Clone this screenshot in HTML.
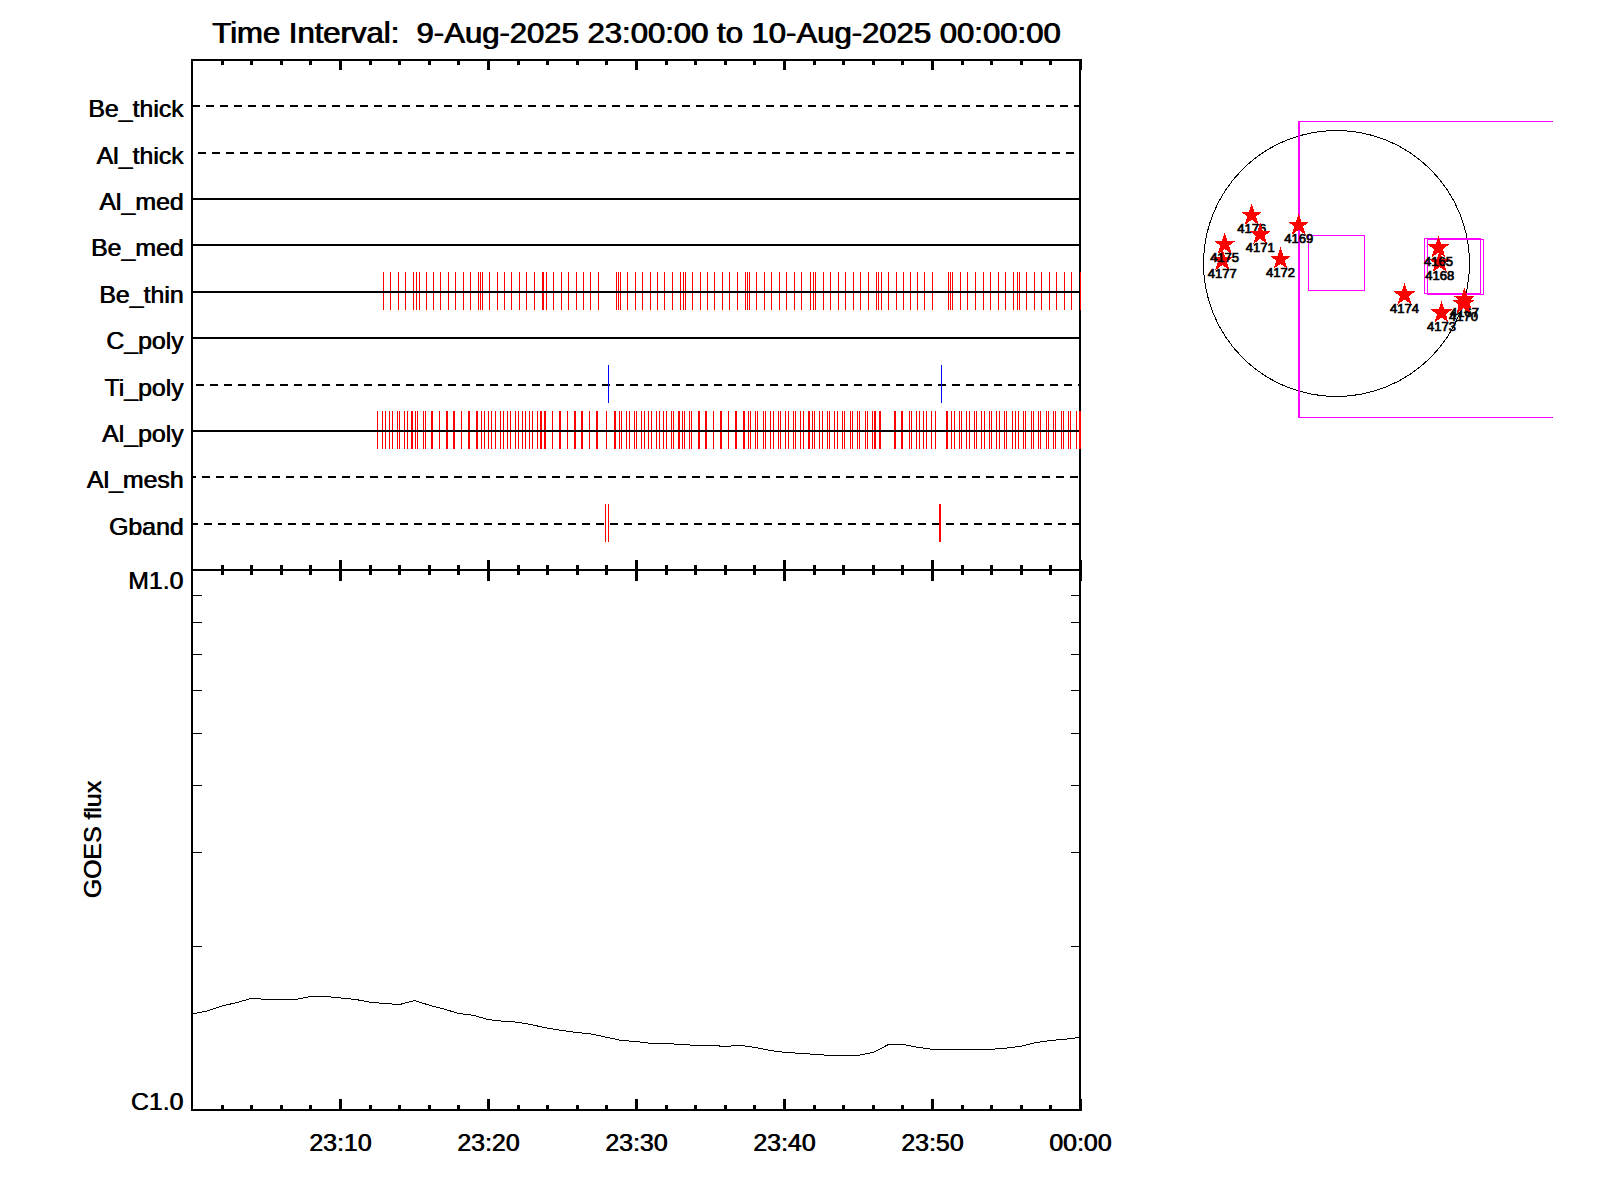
<!DOCTYPE html>
<html lang="en"><head><meta charset="utf-8"><title>XRT Time Interval 9-Aug-2025 23:00:00 to 10-Aug-2025 00:00:00</title>
<style>html,body{margin:0;padding:0;background:#fff;}body{width:1600px;height:1200px;overflow:hidden;}svg{display:block;}text{font-family:"Liberation Sans",sans-serif;fill:#000;}.t{font-size:29.6px;}.l{font-size:23.7px;}.s{font-size:13px;}</style></head><body>
<svg width="1600" height="1200" viewBox="0 0 1600 1200">
<rect x="0" y="0" width="1600" height="1200" fill="#fff"/>
<g shape-rendering="crispEdges">
<polyline points="192.5,1014.0 207.3,1011.0 222.1,1006.0 236.9,1002.5 251.7,998.3 266.5,999.4 281.3,999.4 296.1,999.4 310.9,996.5 325.7,996.5 340.5,998.0 355.3,999.4 370.1,1002.2 384.9,1003.5 399.7,1004.5 414.5,1000.5 429.3,1005.2 444.1,1009.1 458.9,1013.5 473.7,1015.4 488.5,1019.6 503.3,1021.3 518.1,1022.2 532.9,1025.0 547.7,1028.2 562.5,1030.6 577.3,1032.5 592.1,1034.1 606.9,1037.4 621.7,1040.5 636.5,1041.5 651.3,1043.5 666.1,1043.5 680.9,1044.4 695.7,1045.4 710.5,1045.4 725.3,1046.4 740.1,1045.4 754.9,1047.4 769.7,1050.4 784.5,1052.3 799.3,1053.3 814.1,1054.3 828.9,1055.4 843.7,1055.3 858.5,1055.3 873.3,1052.4 888.1,1044.7 902.9,1044.3 917.7,1047.3 932.5,1049.3 947.3,1049.3 962.1,1049.3 976.9,1049.3 991.7,1049.3 1006.5,1048.1 1021.3,1046.1 1036.1,1042.5 1050.9,1040.4 1065.7,1039.2 1080.5,1037.3" fill="none" stroke="#000" stroke-width="1"/>
<rect x="191" y="59" width="2" height="1052" fill="#000"/>
<rect x="1079" y="59" width="2" height="1052" fill="#000"/>
<rect x="191" y="59" width="890" height="2" fill="#000"/>
<rect x="191" y="569" width="890" height="2" fill="#000"/>
<rect x="191" y="1109" width="890" height="2" fill="#000"/>
<rect x="221" y="59" width="3" height="6" fill="#000"/>
<rect x="221" y="565" width="3" height="10" fill="#000"/>
<rect x="221" y="1105" width="3" height="6" fill="#000"/>
<rect x="250" y="59" width="3" height="6" fill="#000"/>
<rect x="250" y="565" width="3" height="10" fill="#000"/>
<rect x="250" y="1105" width="3" height="6" fill="#000"/>
<rect x="280" y="59" width="3" height="6" fill="#000"/>
<rect x="280" y="565" width="3" height="10" fill="#000"/>
<rect x="280" y="1105" width="3" height="6" fill="#000"/>
<rect x="309" y="59" width="3" height="6" fill="#000"/>
<rect x="309" y="565" width="3" height="10" fill="#000"/>
<rect x="309" y="1105" width="3" height="6" fill="#000"/>
<rect x="339" y="59" width="3" height="11" fill="#000"/>
<rect x="339" y="560" width="3" height="21" fill="#000"/>
<rect x="339" y="1099" width="3" height="12" fill="#000"/>
<rect x="369" y="59" width="3" height="6" fill="#000"/>
<rect x="369" y="565" width="3" height="10" fill="#000"/>
<rect x="369" y="1105" width="3" height="6" fill="#000"/>
<rect x="398" y="59" width="3" height="6" fill="#000"/>
<rect x="398" y="565" width="3" height="10" fill="#000"/>
<rect x="398" y="1105" width="3" height="6" fill="#000"/>
<rect x="428" y="59" width="3" height="6" fill="#000"/>
<rect x="428" y="565" width="3" height="10" fill="#000"/>
<rect x="428" y="1105" width="3" height="6" fill="#000"/>
<rect x="457" y="59" width="3" height="6" fill="#000"/>
<rect x="457" y="565" width="3" height="10" fill="#000"/>
<rect x="457" y="1105" width="3" height="6" fill="#000"/>
<rect x="487" y="59" width="3" height="11" fill="#000"/>
<rect x="487" y="560" width="3" height="21" fill="#000"/>
<rect x="487" y="1099" width="3" height="12" fill="#000"/>
<rect x="517" y="59" width="3" height="6" fill="#000"/>
<rect x="517" y="565" width="3" height="10" fill="#000"/>
<rect x="517" y="1105" width="3" height="6" fill="#000"/>
<rect x="546" y="59" width="3" height="6" fill="#000"/>
<rect x="546" y="565" width="3" height="10" fill="#000"/>
<rect x="546" y="1105" width="3" height="6" fill="#000"/>
<rect x="576" y="59" width="3" height="6" fill="#000"/>
<rect x="576" y="565" width="3" height="10" fill="#000"/>
<rect x="576" y="1105" width="3" height="6" fill="#000"/>
<rect x="605" y="59" width="3" height="6" fill="#000"/>
<rect x="605" y="565" width="3" height="10" fill="#000"/>
<rect x="605" y="1105" width="3" height="6" fill="#000"/>
<rect x="635" y="59" width="3" height="11" fill="#000"/>
<rect x="635" y="560" width="3" height="21" fill="#000"/>
<rect x="635" y="1099" width="3" height="12" fill="#000"/>
<rect x="665" y="59" width="3" height="6" fill="#000"/>
<rect x="665" y="565" width="3" height="10" fill="#000"/>
<rect x="665" y="1105" width="3" height="6" fill="#000"/>
<rect x="694" y="59" width="3" height="6" fill="#000"/>
<rect x="694" y="565" width="3" height="10" fill="#000"/>
<rect x="694" y="1105" width="3" height="6" fill="#000"/>
<rect x="724" y="59" width="3" height="6" fill="#000"/>
<rect x="724" y="565" width="3" height="10" fill="#000"/>
<rect x="724" y="1105" width="3" height="6" fill="#000"/>
<rect x="753" y="59" width="3" height="6" fill="#000"/>
<rect x="753" y="565" width="3" height="10" fill="#000"/>
<rect x="753" y="1105" width="3" height="6" fill="#000"/>
<rect x="783" y="59" width="3" height="11" fill="#000"/>
<rect x="783" y="560" width="3" height="21" fill="#000"/>
<rect x="783" y="1099" width="3" height="12" fill="#000"/>
<rect x="813" y="59" width="3" height="6" fill="#000"/>
<rect x="813" y="565" width="3" height="10" fill="#000"/>
<rect x="813" y="1105" width="3" height="6" fill="#000"/>
<rect x="842" y="59" width="3" height="6" fill="#000"/>
<rect x="842" y="565" width="3" height="10" fill="#000"/>
<rect x="842" y="1105" width="3" height="6" fill="#000"/>
<rect x="872" y="59" width="3" height="6" fill="#000"/>
<rect x="872" y="565" width="3" height="10" fill="#000"/>
<rect x="872" y="1105" width="3" height="6" fill="#000"/>
<rect x="901" y="59" width="3" height="6" fill="#000"/>
<rect x="901" y="565" width="3" height="10" fill="#000"/>
<rect x="901" y="1105" width="3" height="6" fill="#000"/>
<rect x="931" y="59" width="3" height="11" fill="#000"/>
<rect x="931" y="560" width="3" height="21" fill="#000"/>
<rect x="931" y="1099" width="3" height="12" fill="#000"/>
<rect x="961" y="59" width="3" height="6" fill="#000"/>
<rect x="961" y="565" width="3" height="10" fill="#000"/>
<rect x="961" y="1105" width="3" height="6" fill="#000"/>
<rect x="990" y="59" width="3" height="6" fill="#000"/>
<rect x="990" y="565" width="3" height="10" fill="#000"/>
<rect x="990" y="1105" width="3" height="6" fill="#000"/>
<rect x="1020" y="59" width="3" height="6" fill="#000"/>
<rect x="1020" y="565" width="3" height="10" fill="#000"/>
<rect x="1020" y="1105" width="3" height="6" fill="#000"/>
<rect x="1049" y="59" width="3" height="6" fill="#000"/>
<rect x="1049" y="565" width="3" height="10" fill="#000"/>
<rect x="1049" y="1105" width="3" height="6" fill="#000"/>
<rect x="1079" y="59" width="3" height="11" fill="#000"/>
<rect x="1079" y="560" width="3" height="21" fill="#000"/>
<rect x="1079" y="1099" width="3" height="12" fill="#000"/>
<rect x="193" y="595" width="9" height="1" fill="#000"/>
<rect x="1071" y="595" width="8" height="1" fill="#000"/>
<rect x="193" y="622" width="9" height="1" fill="#000"/>
<rect x="1071" y="622" width="8" height="1" fill="#000"/>
<rect x="193" y="654" width="9" height="1" fill="#000"/>
<rect x="1071" y="654" width="8" height="1" fill="#000"/>
<rect x="193" y="690" width="9" height="1" fill="#000"/>
<rect x="1071" y="690" width="8" height="1" fill="#000"/>
<rect x="193" y="733" width="9" height="1" fill="#000"/>
<rect x="1071" y="733" width="8" height="1" fill="#000"/>
<rect x="193" y="785" width="9" height="1" fill="#000"/>
<rect x="1071" y="785" width="8" height="1" fill="#000"/>
<rect x="193" y="852" width="9" height="1" fill="#000"/>
<rect x="1071" y="852" width="8" height="1" fill="#000"/>
<rect x="193" y="946" width="9" height="1" fill="#000"/>
<rect x="1071" y="946" width="8" height="1" fill="#000"/>
<path fill="#f00" d="M383 272h1v38h-1zM390 272h1v38h-1zM398 272h1v38h-1zM405 272h1v38h-1zM413 272h1v38h-1zM416 272h1v38h-1zM419 272h1v38h-1zM426 272h1v38h-1zM433 272h1v38h-1zM440 272h1v38h-1zM448 272h1v38h-1zM455 272h1v38h-1zM463 272h1v38h-1zM470 272h1v38h-1zM478 272h1v38h-1zM480 272h1v38h-1zM482 272h1v38h-1zM489 272h1v38h-1zM497 272h1v38h-1zM504 272h1v38h-1zM511 272h1v38h-1zM519 272h1v38h-1zM526 272h1v38h-1zM534 272h1v38h-1zM542 272h2v38h-2zM546 272h1v38h-1zM553 272h1v38h-1zM561 272h1v38h-1zM568 272h1v38h-1zM576 272h1v38h-1zM583 272h1v38h-1zM590 272h1v38h-1zM598 272h1v38h-1zM616 272h1v38h-1zM618 272h1v38h-1zM620 272h1v38h-1zM627 272h1v38h-1zM635 272h1v38h-1zM642 272h1v38h-1zM650 272h1v38h-1zM657 272h1v38h-1zM664 272h1v38h-1zM672 272h1v38h-1zM680 272h1v38h-1zM683 272h1v38h-1zM685 272h1v38h-1zM692 272h1v38h-1zM700 272h1v38h-1zM707 272h1v38h-1zM714 272h1v38h-1zM722 272h1v38h-1zM729 272h1v38h-1zM737 272h1v38h-1zM745 272h1v38h-1zM747 272h1v38h-1zM749 272h1v38h-1zM756 272h1v38h-1zM764 272h1v38h-1zM771 272h1v38h-1zM779 272h1v38h-1zM786 272h1v38h-1zM794 272h1v38h-1zM801 272h1v38h-1zM810 272h1v38h-1zM813 272h1v38h-1zM815 272h1v38h-1zM823 272h1v38h-1zM830 272h1v38h-1zM838 272h1v38h-1zM845 272h1v38h-1zM853 272h1v38h-1zM860 272h1v38h-1zM868 272h1v38h-1zM876 272h1v38h-1zM878 272h1v38h-1zM881 272h1v38h-1zM888 272h1v38h-1zM896 272h1v38h-1zM903 272h1v38h-1zM910 272h1v38h-1zM917 272h1v38h-1zM924 272h1v38h-1zM932 272h1v38h-1zM948 272h1v38h-1zM950 272h1v38h-1zM952 272h1v38h-1zM960 272h1v38h-1zM967 272h1v38h-1zM975 272h1v38h-1zM983 272h1v38h-1zM990 272h1v38h-1zM998 272h1v38h-1zM1005 272h1v38h-1zM1013 272h1v38h-1zM1017 272h1v38h-1zM1019 272h1v38h-1zM1026 272h1v38h-1zM1034 272h1v38h-1zM1041 272h1v38h-1zM1049 272h1v38h-1zM1056 272h1v38h-1zM1064 272h1v38h-1zM1071 272h1v38h-1zM1080 272h1v38h-1z"/>
<path fill="#f00" d="M377 411h1v38h-1zM382 411h1v38h-1zM385 411h1v38h-1zM389 411h1v38h-1zM392 411h1v38h-1zM397 411h1v38h-1zM399 411h1v38h-1zM404 411h1v38h-1zM407 411h1v38h-1zM411 411h2v38h-2zM415 411h1v38h-1zM417 411h1v38h-1zM423 411h1v38h-1zM425 411h1v38h-1zM431 411h2v38h-2zM439 411h1v38h-1zM446 411h2v38h-2zM453 411h2v38h-2zM461 411h1v38h-1zM468 411h2v38h-2zM476 411h2v38h-2zM481 411h1v38h-1zM484 411h1v38h-1zM488 411h1v38h-1zM491 411h1v38h-1zM495 411h1v38h-1zM500 411h1v38h-1zM503 411h1v38h-1zM507 411h1v38h-1zM510 411h1v38h-1zM515 411h1v38h-1zM518 411h1v38h-1zM522 411h1v38h-1zM525 411h1v38h-1zM529 411h1v38h-1zM532 411h1v38h-1zM537 411h1v38h-1zM540 411h2v38h-2zM544 411h2v38h-2zM552 411h1v38h-1zM559 411h2v38h-2zM567 411h1v38h-1zM574 411h2v38h-2zM581 411h2v38h-2zM589 411h1v38h-1zM596 411h2v38h-2zM606 411h1v38h-1zM614 411h2v38h-2zM619 411h1v38h-1zM621 411h1v38h-1zM626 411h1v38h-1zM629 411h1v38h-1zM634 411h1v38h-1zM636 411h1v38h-1zM641 411h1v38h-1zM644 411h1v38h-1zM648 411h1v38h-1zM651 411h1v38h-1zM656 411h1v38h-1zM659 411h1v38h-1zM663 411h1v38h-1zM666 411h1v38h-1zM671 411h1v38h-1zM673 411h1v38h-1zM678 411h2v38h-2zM682 411h1v38h-1zM684 411h1v38h-1zM689 411h1v38h-1zM691 411h1v38h-1zM698 411h2v38h-2zM705 411h2v38h-2zM713 411h1v38h-1zM720 411h2v38h-2zM728 411h1v38h-1zM735 411h2v38h-2zM743 411h2v38h-2zM748 411h1v38h-1zM750 411h1v38h-1zM755 411h1v38h-1zM757 411h1v38h-1zM763 411h1v38h-1zM765 411h1v38h-1zM770 411h1v38h-1zM773 411h1v38h-1zM778 411h1v38h-1zM780 411h1v38h-1zM785 411h1v38h-1zM788 411h1v38h-1zM793 411h1v38h-1zM795 411h1v38h-1zM800 411h1v38h-1zM803 411h1v38h-1zM808 411h2v38h-2zM812 411h1v38h-1zM814 411h1v38h-1zM819 411h1v38h-1zM822 411h1v38h-1zM827 411h1v38h-1zM829 411h1v38h-1zM834 411h1v38h-1zM837 411h1v38h-1zM842 411h1v38h-1zM844 411h1v38h-1zM850 411h1v38h-1zM852 411h1v38h-1zM857 411h1v38h-1zM859 411h1v38h-1zM865 411h1v38h-1zM867 411h1v38h-1zM872 411h1v38h-1zM874 411h2v38h-2zM879 411h2v38h-2zM894 411h2v38h-2zM901 411h2v38h-2zM909 411h1v38h-1zM911 411h1v38h-1zM916 411h1v38h-1zM919 411h1v38h-1zM923 411h1v38h-1zM926 411h1v38h-1zM931 411h1v38h-1zM935 411h1v38h-1zM946 411h2v38h-2zM951 411h1v38h-1zM954 411h1v38h-1zM959 411h1v38h-1zM961 411h1v38h-1zM966 411h1v38h-1zM969 411h1v38h-1zM974 411h1v38h-1zM976 411h1v38h-1zM981 411h1v38h-1zM984 411h1v38h-1zM989 411h1v38h-1zM991 411h1v38h-1zM996 411h1v38h-1zM999 411h1v38h-1zM1004 411h1v38h-1zM1006 411h1v38h-1zM1012 411h1v38h-1zM1015 411h1v38h-1zM1018 411h1v38h-1zM1023 411h1v38h-1zM1025 411h1v38h-1zM1031 411h1v38h-1zM1033 411h1v38h-1zM1038 411h1v38h-1zM1040 411h1v38h-1zM1046 411h1v38h-1zM1048 411h1v38h-1zM1053 411h1v38h-1zM1055 411h1v38h-1zM1061 411h1v38h-1zM1063 411h1v38h-1zM1068 411h1v38h-1zM1070 411h1v38h-1zM1076 411h1v38h-1zM1079 411h2v38h-2z"/>
<path fill="#000" d="M192 105h8v2h-8zM206 105h8v2h-8zM220 105h8v2h-8zM234 105h8v2h-8zM248 105h8v2h-8zM262 105h8v2h-8zM276 105h8v2h-8zM290 105h8v2h-8zM304 105h8v2h-8zM318 105h8v2h-8zM332 105h8v2h-8zM346 105h8v2h-8zM360 105h8v2h-8zM374 105h8v2h-8zM388 105h8v2h-8zM402 105h8v2h-8zM416 105h8v2h-8zM430 105h8v2h-8zM444 105h8v2h-8zM458 105h8v2h-8zM472 105h8v2h-8zM486 105h8v2h-8zM500 105h8v2h-8zM514 105h8v2h-8zM528 105h8v2h-8zM542 105h8v2h-8zM556 105h8v2h-8zM570 105h8v2h-8zM584 105h8v2h-8zM598 105h8v2h-8zM612 105h8v2h-8zM626 105h8v2h-8zM640 105h8v2h-8zM654 105h8v2h-8zM668 105h8v2h-8zM682 105h8v2h-8zM696 105h8v2h-8zM710 105h8v2h-8zM724 105h8v2h-8zM738 105h8v2h-8zM752 105h8v2h-8zM766 105h8v2h-8zM780 105h8v2h-8zM794 105h8v2h-8zM808 105h8v2h-8zM822 105h8v2h-8zM836 105h8v2h-8zM850 105h8v2h-8zM864 105h8v2h-8zM878 105h8v2h-8zM892 105h8v2h-8zM906 105h8v2h-8zM920 105h8v2h-8zM934 105h8v2h-8zM948 105h8v2h-8zM962 105h8v2h-8zM976 105h8v2h-8zM990 105h8v2h-8zM1004 105h8v2h-8zM1018 105h8v2h-8zM1032 105h8v2h-8zM1046 105h8v2h-8zM1060 105h8v2h-8zM1074 105h7v2h-7z"/>
<path fill="#000" d="M198 152h8v2h-8zM212 152h8v2h-8zM226 152h8v2h-8zM240 152h8v2h-8zM254 152h8v2h-8zM268 152h8v2h-8zM282 152h8v2h-8zM296 152h8v2h-8zM310 152h8v2h-8zM324 152h8v2h-8zM338 152h8v2h-8zM352 152h8v2h-8zM366 152h8v2h-8zM380 152h8v2h-8zM394 152h8v2h-8zM408 152h8v2h-8zM422 152h8v2h-8zM436 152h8v2h-8zM450 152h8v2h-8zM464 152h8v2h-8zM478 152h8v2h-8zM492 152h8v2h-8zM506 152h8v2h-8zM520 152h8v2h-8zM534 152h8v2h-8zM548 152h8v2h-8zM562 152h8v2h-8zM576 152h8v2h-8zM590 152h8v2h-8zM604 152h8v2h-8zM618 152h8v2h-8zM632 152h8v2h-8zM646 152h8v2h-8zM660 152h8v2h-8zM674 152h8v2h-8zM688 152h8v2h-8zM702 152h8v2h-8zM716 152h8v2h-8zM730 152h8v2h-8zM744 152h8v2h-8zM758 152h8v2h-8zM772 152h8v2h-8zM786 152h8v2h-8zM800 152h8v2h-8zM814 152h8v2h-8zM828 152h8v2h-8zM842 152h8v2h-8zM856 152h8v2h-8zM870 152h8v2h-8zM884 152h8v2h-8zM898 152h8v2h-8zM912 152h8v2h-8zM926 152h8v2h-8zM940 152h8v2h-8zM954 152h8v2h-8zM968 152h8v2h-8zM982 152h8v2h-8zM996 152h8v2h-8zM1010 152h8v2h-8zM1024 152h8v2h-8zM1038 152h8v2h-8zM1052 152h8v2h-8zM1066 152h8v2h-8z"/>
<rect x="193" y="198" width="886" height="2" fill="#000"/>
<rect x="193" y="244" width="886" height="2" fill="#000"/>
<rect x="193" y="291" width="886" height="2" fill="#000"/>
<rect x="193" y="337" width="886" height="2" fill="#000"/>
<path fill="#000" d="M196 384h8v2h-8zM210 384h8v2h-8zM224 384h8v2h-8zM238 384h8v2h-8zM252 384h8v2h-8zM266 384h8v2h-8zM280 384h8v2h-8zM294 384h8v2h-8zM308 384h8v2h-8zM322 384h8v2h-8zM336 384h8v2h-8zM350 384h8v2h-8zM364 384h8v2h-8zM378 384h8v2h-8zM392 384h8v2h-8zM406 384h8v2h-8zM420 384h8v2h-8zM434 384h8v2h-8zM448 384h8v2h-8zM462 384h8v2h-8zM476 384h8v2h-8zM490 384h8v2h-8zM504 384h8v2h-8zM518 384h8v2h-8zM532 384h8v2h-8zM546 384h8v2h-8zM560 384h8v2h-8zM574 384h8v2h-8zM588 384h8v2h-8zM602 384h8v2h-8zM616 384h8v2h-8zM630 384h8v2h-8zM644 384h8v2h-8zM658 384h8v2h-8zM672 384h8v2h-8zM686 384h8v2h-8zM700 384h8v2h-8zM714 384h8v2h-8zM728 384h8v2h-8zM742 384h8v2h-8zM756 384h8v2h-8zM770 384h8v2h-8zM784 384h8v2h-8zM798 384h8v2h-8zM812 384h8v2h-8zM826 384h8v2h-8zM840 384h8v2h-8zM854 384h8v2h-8zM868 384h8v2h-8zM882 384h8v2h-8zM896 384h8v2h-8zM910 384h8v2h-8zM924 384h8v2h-8zM938 384h8v2h-8zM952 384h8v2h-8zM966 384h8v2h-8zM980 384h8v2h-8zM994 384h8v2h-8zM1008 384h8v2h-8zM1022 384h8v2h-8zM1036 384h8v2h-8zM1050 384h8v2h-8zM1064 384h8v2h-8zM1078 384h3v2h-3z"/>
<rect x="193" y="430" width="886" height="2" fill="#000"/>
<path fill="#000" d="M193 476h3v2h-3zM202 476h8v2h-8zM216 476h8v2h-8zM230 476h8v2h-8zM244 476h8v2h-8zM258 476h8v2h-8zM272 476h8v2h-8zM286 476h8v2h-8zM300 476h8v2h-8zM314 476h8v2h-8zM328 476h8v2h-8zM342 476h8v2h-8zM356 476h8v2h-8zM370 476h8v2h-8zM384 476h8v2h-8zM398 476h8v2h-8zM412 476h8v2h-8zM426 476h8v2h-8zM440 476h8v2h-8zM454 476h8v2h-8zM468 476h8v2h-8zM482 476h8v2h-8zM496 476h8v2h-8zM510 476h8v2h-8zM524 476h8v2h-8zM538 476h8v2h-8zM552 476h8v2h-8zM566 476h8v2h-8zM580 476h8v2h-8zM594 476h8v2h-8zM608 476h8v2h-8zM622 476h8v2h-8zM636 476h8v2h-8zM650 476h8v2h-8zM664 476h8v2h-8zM678 476h8v2h-8zM692 476h8v2h-8zM706 476h8v2h-8zM720 476h8v2h-8zM734 476h8v2h-8zM748 476h8v2h-8zM762 476h8v2h-8zM776 476h8v2h-8zM790 476h8v2h-8zM804 476h8v2h-8zM818 476h8v2h-8zM832 476h8v2h-8zM846 476h8v2h-8zM860 476h8v2h-8zM874 476h8v2h-8zM888 476h8v2h-8zM902 476h8v2h-8zM916 476h8v2h-8zM930 476h8v2h-8zM944 476h8v2h-8zM958 476h8v2h-8zM972 476h8v2h-8zM986 476h8v2h-8zM1000 476h8v2h-8zM1014 476h8v2h-8zM1028 476h8v2h-8zM1042 476h8v2h-8zM1056 476h8v2h-8zM1070 476h8v2h-8z"/>
<path fill="#000" d="M193 523h5v2h-5zM204 523h8v2h-8zM218 523h8v2h-8zM232 523h8v2h-8zM246 523h8v2h-8zM260 523h8v2h-8zM274 523h8v2h-8zM288 523h8v2h-8zM302 523h8v2h-8zM316 523h8v2h-8zM330 523h8v2h-8zM344 523h8v2h-8zM358 523h8v2h-8zM372 523h8v2h-8zM386 523h8v2h-8zM400 523h8v2h-8zM414 523h8v2h-8zM428 523h8v2h-8zM442 523h8v2h-8zM456 523h8v2h-8zM470 523h8v2h-8zM484 523h8v2h-8zM498 523h8v2h-8zM512 523h8v2h-8zM526 523h8v2h-8zM540 523h8v2h-8zM554 523h8v2h-8zM568 523h8v2h-8zM582 523h8v2h-8zM596 523h8v2h-8zM610 523h8v2h-8zM624 523h8v2h-8zM638 523h8v2h-8zM652 523h8v2h-8zM666 523h8v2h-8zM680 523h8v2h-8zM694 523h8v2h-8zM708 523h8v2h-8zM722 523h8v2h-8zM736 523h8v2h-8zM750 523h8v2h-8zM764 523h8v2h-8zM778 523h8v2h-8zM792 523h8v2h-8zM806 523h8v2h-8zM820 523h8v2h-8zM834 523h8v2h-8zM848 523h8v2h-8zM862 523h8v2h-8zM876 523h8v2h-8zM890 523h8v2h-8zM904 523h8v2h-8zM918 523h8v2h-8zM932 523h8v2h-8zM946 523h8v2h-8zM960 523h8v2h-8zM974 523h8v2h-8zM988 523h8v2h-8zM1002 523h8v2h-8zM1016 523h8v2h-8zM1030 523h8v2h-8zM1044 523h8v2h-8zM1058 523h8v2h-8zM1072 523h8v2h-8z"/>
<path fill="#f00" d="M605 504h1v38h-1zM608 504h1v38h-1zM939 504h2v38h-2z"/>
<path fill="#00f" d="M608 365h1v38h-1zM941 365h1v38h-1z"/>
<circle cx="1336.5" cy="263.5" r="133" fill="none" stroke="#000" stroke-width="1"/>
<rect x="1298" y="121" width="2" height="297" fill="#f0f"/>
<rect x="1298" y="121" width="255" height="1" fill="#f0f"/>
<rect x="1298" y="417" width="255" height="1" fill="#f0f"/>
<path fill="none" stroke="#f0f" stroke-width="1" d="M1308.5 235.5H1364.5V290.5H1308.5z"/>
<path fill="none" stroke="#f0f" stroke-width="1" d="M1424.5 238.5H1480.5V293.5H1424.5z"/>
<path fill="none" stroke="#f0f" stroke-width="1" d="M1427.5 239.5H1483.5V294.5H1427.5z"/>
</g>
<polygon shape-rendering="crispEdges" fill="#f00" points="1222.3,248.5 1225.0,256.8 1233.0,257.0 1226.7,261.9 1229.4,270.2 1222.3,265.1 1215.2,270.2 1217.9,261.9 1211.6,257.0 1219.6,256.8"/>
<text class="s" x="1222.3" y="277.5" text-anchor="middle" stroke="#000" stroke-width="0.7">4177</text>
<polygon shape-rendering="crispEdges" fill="#f00" points="1224.6,232.4 1227.3,240.7 1235.3,240.9 1229.0,245.8 1231.7,254.1 1224.6,249.0 1217.5,254.1 1220.2,245.8 1213.9,240.9 1221.9,240.7"/>
<text class="s" x="1224.6" y="261.7" text-anchor="middle" stroke="#000" stroke-width="0.7">4175</text>
<polygon shape-rendering="crispEdges" fill="#f00" points="1251.7,203.2 1254.4,211.5 1262.4,211.7 1256.1,216.6 1258.8,224.9 1251.7,219.8 1244.6,224.9 1247.3,216.6 1241.0,211.7 1249.0,211.5"/>
<text class="s" x="1251.7" y="232.9" text-anchor="middle" stroke="#000" stroke-width="0.7">4176</text>
<polygon shape-rendering="crispEdges" fill="#f00" points="1260.2,222.4 1262.9,230.7 1270.9,230.9 1264.6,235.8 1267.3,244.1 1260.2,239.0 1253.1,244.1 1255.8,235.8 1249.5,230.9 1257.5,230.7"/>
<text class="s" x="1260.2" y="251.7" text-anchor="middle" stroke="#000" stroke-width="0.7">4171</text>
<polygon shape-rendering="crispEdges" fill="#f00" points="1298.7,213.2 1301.4,221.5 1309.4,221.7 1303.1,226.6 1305.8,234.9 1298.7,229.8 1291.6,234.9 1294.3,226.6 1288.0,221.7 1296.0,221.5"/>
<text class="s" x="1298.7" y="242.5" text-anchor="middle" stroke="#000" stroke-width="0.7">4169</text>
<polygon shape-rendering="crispEdges" fill="#f00" points="1280.5,247.3 1283.2,255.6 1291.2,255.8 1284.9,260.7 1287.6,269.0 1280.5,263.9 1273.4,269.0 1276.1,260.7 1269.8,255.8 1277.8,255.6"/>
<text class="s" x="1280.5" y="276.6" text-anchor="middle" stroke="#000" stroke-width="0.7">4172</text>
<polygon shape-rendering="crispEdges" fill="#f00" points="1439.7,250.4 1442.4,258.7 1450.4,258.9 1444.1,263.8 1446.8,272.1 1439.7,267.0 1432.6,272.1 1435.3,263.8 1429.0,258.9 1437.0,258.7"/>
<text class="s" x="1439.7" y="279.7" text-anchor="middle" stroke="#000" stroke-width="0.7">4168</text>
<polygon shape-rendering="crispEdges" fill="#f00" points="1438.4,235.9 1441.1,244.2 1449.1,244.4 1442.8,249.3 1445.5,257.6 1438.4,252.5 1431.3,257.6 1434.0,249.3 1427.7,244.4 1435.7,244.2"/>
<text class="s" x="1438.4" y="265.7" text-anchor="middle" stroke="#000" stroke-width="0.7">4165</text>
<polygon shape-rendering="crispEdges" fill="#f00" points="1404.5,282.9 1407.2,291.2 1415.2,291.4 1408.9,296.3 1411.6,304.6 1404.5,299.5 1397.4,304.6 1400.1,296.3 1393.8,291.4 1401.8,291.2"/>
<text class="s" x="1404.5" y="312.7" text-anchor="middle" stroke="#000" stroke-width="0.7">4174</text>
<polygon shape-rendering="crispEdges" fill="#f00" points="1441.4,300.9 1444.1,309.2 1452.1,309.4 1445.8,314.3 1448.5,322.6 1441.4,317.5 1434.3,322.6 1437.0,314.3 1430.7,309.4 1438.7,309.2"/>
<text class="s" x="1441.4" y="330.5" text-anchor="middle" stroke="#000" stroke-width="0.7">4173</text>
<polygon shape-rendering="crispEdges" fill="#f00" points="1464.4,287.5 1467.1,295.8 1475.1,296.0 1468.8,300.9 1471.5,309.2 1464.4,304.1 1457.3,309.2 1460.0,300.9 1453.7,296.0 1461.7,295.8"/>
<text class="s" x="1464.4" y="317.2" text-anchor="middle" stroke="#000" stroke-width="0.7">4167</text>
<polygon shape-rendering="crispEdges" fill="#f00" points="1463.5,291.8 1466.2,300.1 1474.2,300.3 1467.9,305.2 1470.6,313.5 1463.5,308.4 1456.4,313.5 1459.1,305.2 1452.8,300.3 1460.8,300.1"/>
<text class="s" x="1463.5" y="321.0" text-anchor="middle" stroke="#000" stroke-width="0.7">4170</text>
<g transform="translate(636.5,43) scale(1.05,1)">
<text xml:space="preserve" class="t" x="-0.476" y="0" text-anchor="middle">Time Interval:  9-Aug-2025 23:00:00 to 10-Aug-2025 00:00:00</text>
<text xml:space="preserve" class="t" x="0.476" y="0" text-anchor="middle">Time Interval:  9-Aug-2025 23:00:00 to 10-Aug-2025 00:00:00</text>
</g>
<g transform="translate(183.7,117) scale(1.05,1)">
<text xml:space="preserve" class="l" x="-0.333" y="0" text-anchor="end">Be_thick</text>
<text xml:space="preserve" class="l" x="0.333" y="0" text-anchor="end">Be_thick</text>
</g>
<g transform="translate(183.7,164) scale(1.05,1)">
<text xml:space="preserve" class="l" x="-0.333" y="0" text-anchor="end">Al_thick</text>
<text xml:space="preserve" class="l" x="0.333" y="0" text-anchor="end">Al_thick</text>
</g>
<g transform="translate(183.7,210) scale(1.05,1)">
<text xml:space="preserve" class="l" x="-0.333" y="0" text-anchor="end">Al_med</text>
<text xml:space="preserve" class="l" x="0.333" y="0" text-anchor="end">Al_med</text>
</g>
<g transform="translate(183.7,256) scale(1.05,1)">
<text xml:space="preserve" class="l" x="-0.333" y="0" text-anchor="end">Be_med</text>
<text xml:space="preserve" class="l" x="0.333" y="0" text-anchor="end">Be_med</text>
</g>
<g transform="translate(183.7,303) scale(1.05,1)">
<text xml:space="preserve" class="l" x="-0.333" y="0" text-anchor="end">Be_thin</text>
<text xml:space="preserve" class="l" x="0.333" y="0" text-anchor="end">Be_thin</text>
</g>
<g transform="translate(183.7,349) scale(1.05,1)">
<text xml:space="preserve" class="l" x="-0.333" y="0" text-anchor="end">C_poly</text>
<text xml:space="preserve" class="l" x="0.333" y="0" text-anchor="end">C_poly</text>
</g>
<g transform="translate(183.7,396) scale(1.05,1)">
<text xml:space="preserve" class="l" x="-0.333" y="0" text-anchor="end">Ti_poly</text>
<text xml:space="preserve" class="l" x="0.333" y="0" text-anchor="end">Ti_poly</text>
</g>
<g transform="translate(183.7,442) scale(1.05,1)">
<text xml:space="preserve" class="l" x="-0.333" y="0" text-anchor="end">Al_poly</text>
<text xml:space="preserve" class="l" x="0.333" y="0" text-anchor="end">Al_poly</text>
</g>
<g transform="translate(183.7,488) scale(1.05,1)">
<text xml:space="preserve" class="l" x="-0.333" y="0" text-anchor="end">Al_mesh</text>
<text xml:space="preserve" class="l" x="0.333" y="0" text-anchor="end">Al_mesh</text>
</g>
<g transform="translate(183.7,535) scale(1.05,1)">
<text xml:space="preserve" class="l" x="-0.333" y="0" text-anchor="end">Gband</text>
<text xml:space="preserve" class="l" x="0.333" y="0" text-anchor="end">Gband</text>
</g>
<g transform="translate(183.5,589) scale(1.05,1)">
<text xml:space="preserve" class="l" x="-0.333" y="0" text-anchor="end">M1.0</text>
<text xml:space="preserve" class="l" x="0.333" y="0" text-anchor="end">M1.0</text>
</g>
<g transform="translate(183.5,1110) scale(1.05,1)">
<text xml:space="preserve" class="l" x="-0.333" y="0" text-anchor="end">C1.0</text>
<text xml:space="preserve" class="l" x="0.333" y="0" text-anchor="end">C1.0</text>
</g>
<g transform="translate(340.5,1151) scale(1.05,1)">
<text xml:space="preserve" class="l" x="-0.333" y="0" text-anchor="middle">23:10</text>
<text xml:space="preserve" class="l" x="0.333" y="0" text-anchor="middle">23:10</text>
</g>
<g transform="translate(488.5,1151) scale(1.05,1)">
<text xml:space="preserve" class="l" x="-0.333" y="0" text-anchor="middle">23:20</text>
<text xml:space="preserve" class="l" x="0.333" y="0" text-anchor="middle">23:20</text>
</g>
<g transform="translate(636.5,1151) scale(1.05,1)">
<text xml:space="preserve" class="l" x="-0.333" y="0" text-anchor="middle">23:30</text>
<text xml:space="preserve" class="l" x="0.333" y="0" text-anchor="middle">23:30</text>
</g>
<g transform="translate(784.5,1151) scale(1.05,1)">
<text xml:space="preserve" class="l" x="-0.333" y="0" text-anchor="middle">23:40</text>
<text xml:space="preserve" class="l" x="0.333" y="0" text-anchor="middle">23:40</text>
</g>
<g transform="translate(932.5,1151) scale(1.05,1)">
<text xml:space="preserve" class="l" x="-0.333" y="0" text-anchor="middle">23:50</text>
<text xml:space="preserve" class="l" x="0.333" y="0" text-anchor="middle">23:50</text>
</g>
<g transform="translate(1080.5,1151) scale(1.05,1)">
<text xml:space="preserve" class="l" x="-0.333" y="0" text-anchor="middle">00:00</text>
<text xml:space="preserve" class="l" x="0.333" y="0" text-anchor="middle">00:00</text>
</g>
<g transform="translate(101,839.5) rotate(-90) scale(1.05,1)">
<text xml:space="preserve" class="l" x="-0.333" y="0" text-anchor="middle">GOES flux</text>
<text xml:space="preserve" class="l" x="0.333" y="0" text-anchor="middle">GOES flux</text>
</g>
</svg></body></html>
